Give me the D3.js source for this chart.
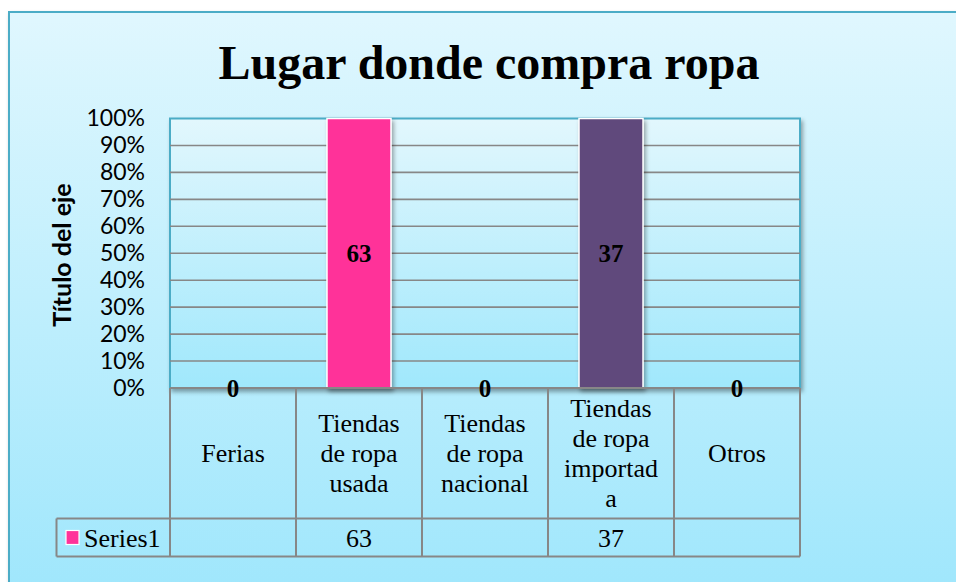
<!DOCTYPE html>
<html>
<head>
<meta charset="utf-8">
<style>
  html, body { margin: 0; padding: 0; background: #fff; overflow: hidden; }
  svg { display: block; }
</style>
<script src="https://cdn.jsdelivr.net/npm/d3@7"></script>
</head>
<body>
<svg id="chart" width="956" height="582"></svg>
<script>
  // chart data
  var title = "Lugar donde compra ropa";
  var axisTitle = "Título del eje";
  var seriesName = "Series1";
  var categories = ["Ferias", "Tiendas de ropa usada", "Tiendas de ropa nacional", "Tiendas de ropa importada", "Otros"];
  var categoryLines = [["Ferias"], ["Tiendas", "de ropa", "usada"], ["Tiendas", "de ropa", "nacional"], ["Tiendas", "de ropa", "importad", "a"], ["Otros"]];
  var values = [0, 63, 0, 37, 0];
  var pointColors = ["#ff3399", "#ff3399", "#4bacc6", "#604a7b", "#f79646"];
  var yTicks = [0, 0.1, 0.2, 0.3, 0.4, 0.5, 0.6, 0.7, 0.8, 0.9, 1];

  var W = 956, H = 582;
  var plot = { left: 170, right: 800, top: 118.5, bottom: 388 };
  var table = { left: 56.5, rowTop: 518.5, bottom: 556.5 };

  var svg = d3.select("#chart");
  var defs = svg.append("defs");

  var bgGrad = defs.append("linearGradient").attr("id", "bgGrad")
    .attr("x1", 0).attr("y1", 0).attr("x2", 0).attr("y2", 1);
  bgGrad.append("stop").attr("offset", "0%").attr("stop-color", "#e0f7fe");
  bgGrad.append("stop").attr("offset", "100%").attr("stop-color", "#9de6fc");

  var plotGrad = defs.append("linearGradient").attr("id", "plotGrad")
    .attr("x1", 0).attr("y1", 0).attr("x2", 0).attr("y2", 1);
  plotGrad.append("stop").attr("offset", "0%").attr("stop-color", "#e2f7fd");
  plotGrad.append("stop").attr("offset", "100%").attr("stop-color", "#a0e8fc");

  var shadow = defs.append("filter").attr("id", "shadow")
    .attr("x", "-10%").attr("y", "-10%").attr("width", "130%").attr("height", "130%");
  shadow.append("feDropShadow").attr("dx", 2).attr("dy", 3).attr("stdDeviation", 2)
    .attr("flood-color", "#000").attr("flood-opacity", 0.35);

  // outer chart area
  svg.append("rect")
    .attr("x", 9).attr("y", 12).attr("width", W + 20).attr("height", H + 20)
    .attr("fill", "url(#bgGrad)")
    .attr("stroke", "#4bacc6").attr("stroke-width", 2)
    .attr("filter", "url(#shadow)");

  svg.append("text")
    .attr("x", 489).attr("y", 79)
    .attr("text-anchor", "middle")
    .attr("font-family", "'Liberation Serif', 'Times New Roman', serif")
    .attr("font-weight", "bold")
    .attr("font-size", 48)
    .attr("fill", "#000")
    .text(title);

  // 100% stacked: each value as share of its category total (one series)
  var shares = values.map(function (v) {
    var total = d3.sum([v]);
    return total > 0 ? v / total : 0;
  });

  var x = d3.scaleBand().domain(categories).range([plot.left, plot.right]);
  var y = d3.scaleLinear().domain([0, 1]).range([plot.bottom, plot.top]);
  var barW = x.bandwidth() * 0.508;

  svg.append("rect")
    .attr("x", plot.left).attr("y", plot.top)
    .attr("width", plot.right - plot.left).attr("height", plot.bottom - plot.top)
    .attr("fill", "url(#plotGrad)")
    .attr("stroke", "#4bacc6").attr("stroke-width", 2)
    .attr("filter", "url(#shadow)");

  svg.append("g").selectAll("line").data(yTicks.slice(1, -1)).enter()
    .append("line")
    .attr("x1", plot.left).attr("x2", plot.right)
    .attr("y1", function (d) { return y(d); })
    .attr("y2", function (d) { return y(d); })
    .attr("stroke", "#878787").attr("stroke-width", 1.6);

  // y axis labels
  var yAxis = svg.append("g")
    .attr("transform", "translate(" + (plot.left - 2) + ",0)")
    .call(d3.axisLeft(y).tickValues(yTicks).tickFormat(d3.format(".0%")).tickSize(0).tickPadding(23));
  yAxis.select(".domain").remove();
  yAxis.selectAll("text")
    .attr("font-family", "Lato, 'Open Sans', sans-serif")
    .attr("font-size", 23)
    .attr("fill", "#000");

  svg.append("text")
    .attr("transform", "translate(71,255) rotate(-90)")
    .attr("text-anchor", "middle")
    .attr("font-family", "Lato, 'Open Sans', sans-serif")
    .attr("font-weight", "bold")
    .attr("font-size", 25)
    .attr("fill", "#000")
    .text(axisTitle);

  // bars
  svg.append("g").selectAll("rect").data(categories).enter()
    .append("rect")
    .attr("x", function (d) { return x(d) + (x.bandwidth() - barW) / 2; })
    .attr("y", function (d, i) { return y(shares[i]); })
    .attr("width", barW)
    .attr("height", function (d, i) { return y(0) - y(shares[i]); })
    .attr("fill", function (d, i) { return pointColors[i]; })
    .attr("stroke", "#ffffff").attr("stroke-width", 1.5)
    .attr("filter", "url(#shadow)")
    .style("display", function (d, i) { return shares[i] > 0 ? null : "none"; });

  // data table
  var grid = svg.append("g").attr("stroke", "#878787").attr("stroke-width", 2).attr("fill", "none");
  var edges = categories.map(function (d) { return x(d); }).concat([plot.right]);
  grid.selectAll("line.v").data(edges).enter()
    .append("line")
    .attr("x1", function (d) { return d; }).attr("x2", function (d) { return d; })
    .attr("y1", plot.bottom).attr("y2", table.bottom);
  grid.append("line")
    .attr("x1", table.left).attr("x2", plot.right)
    .attr("y1", table.rowTop).attr("y2", table.rowTop);
  grid.append("line")
    .attr("x1", table.left).attr("x2", plot.right)
    .attr("y1", table.bottom).attr("y2", table.bottom);
  grid.append("line")
    .attr("x1", table.left).attr("x2", table.left)
    .attr("y1", table.rowTop).attr("y2", table.bottom);
  grid.append("line")
    .attr("x1", plot.left).attr("x2", plot.right)
    .attr("y1", plot.bottom).attr("y2", plot.bottom);

  // data labels
  svg.append("g").selectAll("text").data(categories).enter()
    .append("text")
    .attr("x", function (d) { return x(d) + x.bandwidth() / 2; })
    .attr("y", function (d, i) { return (y(0) + y(shares[i])) / 2 + 9; })
    .attr("text-anchor", "middle")
    .attr("font-family", "'Liberation Serif', 'Times New Roman', serif")
    .attr("font-weight", "bold")
    .attr("font-size", 25)
    .attr("fill", "#000")
    .text(function (d, i) { return values[i]; });

  var lineH = 30;
  var headMid = (plot.bottom + table.rowTop) / 2;
  var catText = svg.append("g").selectAll("text").data(categories).enter()
    .append("text")
    .attr("text-anchor", "middle")
    .attr("font-family", "'Liberation Serif', 'Times New Roman', serif")
    .attr("font-size", 26)
    .attr("fill", "#000");
  catText.each(function (d, i) {
    var lines = categoryLines[i];
    var t = d3.select(this);
    var y0 = headMid - (lines.length - 1) * lineH / 2 + 9;
    lines.forEach(function (ln, k) {
      t.append("tspan")
        .attr("x", x(d) + x.bandwidth() / 2)
        .attr("y", y0 + k * lineH)
        .text(ln);
    });
  });

  var rowMid = (table.rowTop + table.bottom) / 2;
  svg.append("rect")
    .attr("x", 66).attr("y", rowMid - 7).attr("width", 13).attr("height", 14)
    .attr("fill", pointColors[1]).attr("stroke", "#fff").attr("stroke-width", 1.2);
  svg.append("text")
    .attr("x", 84).attr("y", rowMid + 9)
    .attr("font-family", "'Liberation Serif', 'Times New Roman', serif")
    .attr("font-size", 26)
    .attr("fill", "#000")
    .text(seriesName);

  svg.append("g").selectAll("text").data(categories).enter()
    .append("text")
    .attr("x", function (d) { return x(d) + x.bandwidth() / 2; })
    .attr("y", rowMid + 9)
    .attr("text-anchor", "middle")
    .attr("font-family", "'Liberation Serif', 'Times New Roman', serif")
    .attr("font-size", 26)
    .attr("fill", "#000")
    .text(function (d, i) { return values[i] > 0 ? values[i] : ""; });
</script>
</body>
</html>
